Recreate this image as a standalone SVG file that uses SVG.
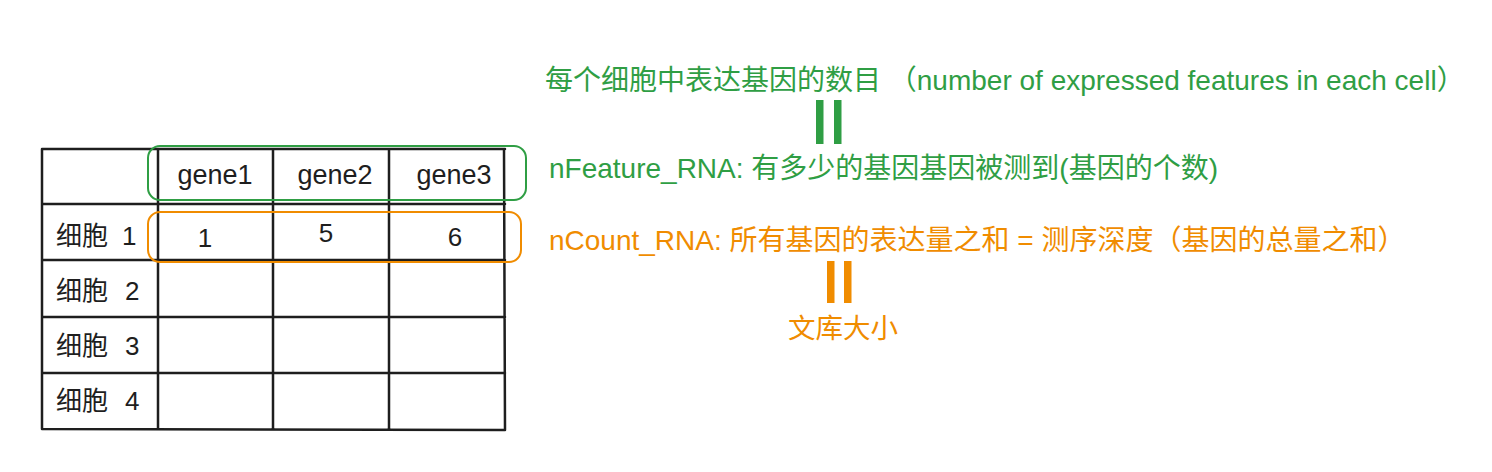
<svg xmlns="http://www.w3.org/2000/svg" width="1492" height="472" viewBox="0 0 1492 472">
<style>
.grid{stroke:#1e1e1e;stroke-width:2.5;fill:none;stroke-linecap:round}
.t{font-family:"Liberation Sans","Noto Sans CJK SC",sans-serif;fill:#1e1e1e}
.cell{font-size:26px}
.gene{font-size:27px}
.g{fill:#2f9e44}
.o{fill:#f08c00}
.big{font-size:28px}
.gbox{fill:none;stroke:#2f9e44;stroke-width:2}
.obox{fill:none;stroke:#f08c00;stroke-width:2}
</style>
<rect width="1492" height="472" fill="#ffffff"/>
<g id="table">
<path class="grid" d="M42 149 L505 149 M42 204 L505 204 M42 260 L505 260 M42 317 L505 317 M42 373 L505 373 M42 429 L505 430 M42 149 L42 429 M158 149 L158 429 M273 149 L273 429 M389 149 L389 429 M504 149 L505 430"/>
<text class="t gene" x="215" y="184" text-anchor="middle">gene1</text>
<text class="t gene" x="335" y="184" text-anchor="middle">gene2</text>
<text class="t gene" x="454" y="184" text-anchor="middle">gene3</text>
<text class="t cell" x="56" y="245">细胞</text>
<text class="t cell" x="122" y="245">1</text>
<text class="t cell" x="56" y="300">细胞</text>
<text class="t cell" x="125" y="300">2</text>
<text class="t cell" x="56" y="355">细胞</text>
<text class="t cell" x="125" y="355">3</text>
<text class="t cell" x="56" y="410">细胞</text>
<text class="t cell" x="125" y="410">4</text>
<text class="t cell" x="205" y="247" text-anchor="middle">1</text>
<text class="t cell" x="326" y="242" text-anchor="middle">5</text>
<text class="t cell" x="455" y="246" text-anchor="middle">6</text>
</g>
<g id="feature-box"><rect class="gbox" x="148" y="146" width="378" height="54" rx="12"/></g>
<g id="count-box"><rect class="obox" x="148" y="212" width="373" height="50" rx="12"/></g>
<g id="feature-desc"><text class="t g big" x="545" y="90">每个细胞中表达基因的数目 （number of expressed features in each cell）</text></g>
<g id="feature-eq"><rect x="816" y="100" width="7.5" height="44" fill="#2f9e44"/><rect x="834" y="100" width="7.5" height="44" fill="#2f9e44"/></g>
<g id="nfeature"><text class="t g big" x="549" y="178">nFeature_RNA: 有多少的基因基因被测到(基因的个数)</text></g>
<g id="ncount"><text class="t o big" x="549" y="250">nCount_RNA: 所有基因的表达量之和 = 测序深度（基因的总量之和）</text></g>
<g id="count-eq"><rect x="827" y="261" width="7.5" height="42" fill="#f08c00"/><rect x="844" y="261" width="7.5" height="42" fill="#f08c00"/></g>
<g id="library"><text class="t o" style="font-size:27.5px" x="843" y="338" text-anchor="middle">文库大小</text></g>
</svg>
